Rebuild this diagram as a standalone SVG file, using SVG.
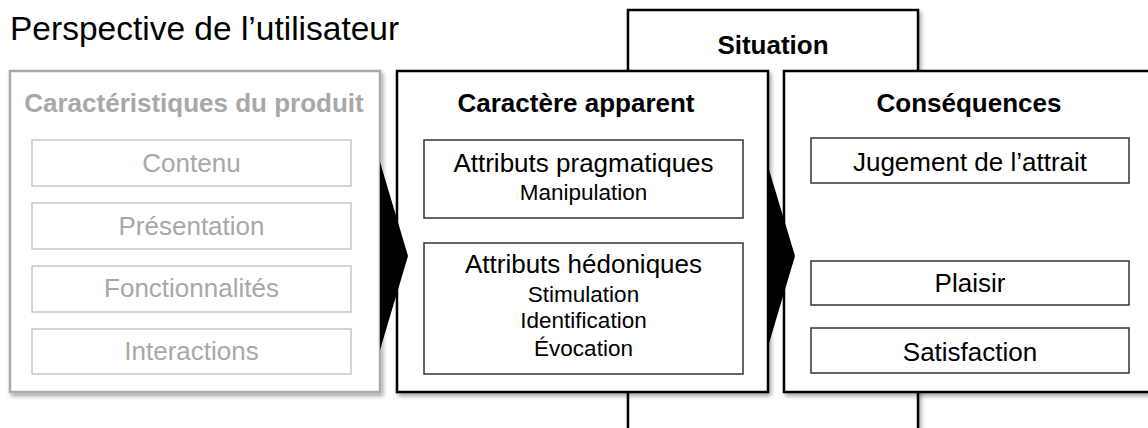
<svg xmlns="http://www.w3.org/2000/svg" width="1148" height="428" viewBox="0 0 1148 428">
  <defs>
    <filter id="shadow" x="-10%" y="-10%" width="130%" height="130%">
      <feDropShadow dx="2" dy="3" stdDeviation="2" flood-color="#000" flood-opacity="0.35"/>
    </filter>
  </defs>
  <style>
    text { font-family: "Liberation Sans", Arial, Helvetica, sans-serif; }
    .heading { font-size: 33.5px; fill: #000; }
    .title { font-size: 26px; font-weight: bold; fill: #000; text-anchor: middle; }
    .label { font-size: 26px; fill: #000; text-anchor: middle; }
    .sub { font-size: 22.5px; fill: #000; text-anchor: middle; }
    .frame { fill: #fff; stroke: #000; stroke-width: 2.5; }
    .inner { fill: #fff; stroke: #333; stroke-width: 1.5; }
    .frame-muted { fill: #fff; stroke: #aaa; stroke-width: 2.5; }
    .inner-muted { fill: #fff; stroke: #c8c8c8; stroke-width: 1.5; }
    .muted { fill: #a8a8a8; }
    .arrow { fill: #000; stroke: none; }
  </style>

  <text class="heading" x="10" y="40">Perspective de l’utilisateur</text>

  <!-- Situation frame, sitting behind the two main frames -->
  <g id="situation">
    <rect class="frame" x="628" y="10" width="290" height="440" filter="url(#shadow)"/>
    <text class="title" x="773" y="54">Situation</text>
  </g>

  <!-- Product characteristics (greyed out) -->
  <g id="produit">
    <rect class="frame-muted" x="10" y="71" width="370" height="321" filter="url(#shadow)"/>
    <text class="title muted" x="194" y="112">Caractéristiques du produit</text>
    <g id="contenu">
      <rect class="inner-muted" x="32" y="140" width="319" height="46"/>
      <text class="label muted" x="191.5" y="172">Contenu</text>
    </g>
    <g id="presentation">
      <rect class="inner-muted" x="32" y="203" width="319" height="46"/>
      <text class="label muted" x="191.5" y="235">Présentation</text>
    </g>
    <g id="fonctionnalites">
      <rect class="inner-muted" x="32" y="266" width="319" height="46"/>
      <text class="label muted" x="191.5" y="297">Fonctionnalités</text>
    </g>
    <g id="interactions">
      <rect class="inner-muted" x="32" y="329" width="319" height="45"/>
      <text class="label muted" x="191.5" y="360">Interactions</text>
    </g>
  </g>

  <!-- Apparent character -->
  <g id="caractere">
    <rect class="frame" x="397" y="71" width="371" height="321" filter="url(#shadow)"/>
    <text class="title" x="576" y="112">Caractère apparent</text>
    <g id="pragmatiques">
      <rect class="inner" x="424" y="140" width="319" height="78"/>
      <text class="label" x="583.5" y="172">Attributs pragmatiques</text>
      <text class="sub" x="583.5" y="200">Manipulation</text>
    </g>
    <g id="hedoniques">
      <rect class="inner" x="424" y="243" width="319" height="131"/>
      <text class="label" x="583.5" y="273">Attributs hédoniques</text>
      <text class="sub" x="583.5" y="302">Stimulation</text>
      <text class="sub" x="583.5" y="328">Identification</text>
      <text class="sub" x="583.5" y="356">Évocation</text>
    </g>
  </g>

  <!-- Consequences -->
  <g id="consequences">
    <rect class="frame" x="784" y="71" width="380" height="321" filter="url(#shadow)"/>
    <text class="title" x="969" y="112">Conséquences</text>
    <g id="jugement">
      <rect class="inner" x="811" y="138" width="318" height="45"/>
      <text class="label" x="970" y="171">Jugement de l’attrait</text>
    </g>
    <g id="plaisir">
      <rect class="inner" x="811" y="261" width="318" height="44"/>
      <text class="label" x="970" y="292">Plaisir</text>
    </g>
    <g id="satisfaction">
      <rect class="inner" x="811" y="328" width="318" height="45"/>
      <text class="label" x="970" y="361">Satisfaction</text>
    </g>
  </g>

  <!-- Flow arrows between the frames -->
  <g id="connectors">
    <polygon class="arrow" points="380,162 408,256 380,350"/>
    <polygon class="arrow" points="767,163 795,256 767,350"/>
  </g>
</svg>
